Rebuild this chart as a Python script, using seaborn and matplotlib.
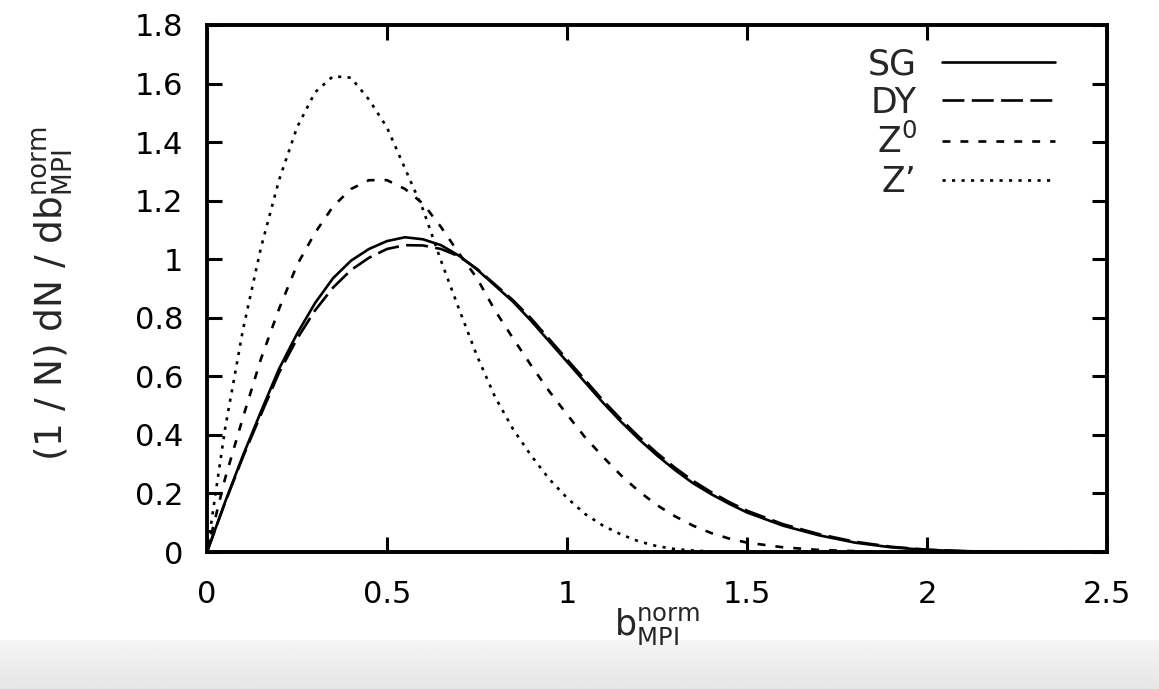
import numpy as np
import pandas as pd
import matplotlib
matplotlib.use("Agg")
import matplotlib.pyplot as plt
import seaborn as sns

# ---- data ----
b_norm = [0.00, 0.05, 0.10, 0.15, 0.20, 0.25, 0.30, 0.35, 0.40, 0.45, 0.50,
          0.55, 0.60, 0.65, 0.70, 0.75, 0.80, 0.85, 0.90, 0.95, 1.00, 1.05,
          1.10, 1.15, 1.20, 1.25, 1.30, 1.35, 1.40, 1.45, 1.50, 1.60, 1.70,
          1.80, 1.90, 2.00, 2.10, 2.20, 2.30, 2.40, 2.50]

sg = [0.000, 0.170, 0.330, 0.480, 0.625, 0.745, 0.850, 0.935, 0.995, 1.035, 1.062,
      1.075, 1.068, 1.048, 1.012, 0.965, 0.910, 0.855, 0.790, 0.720, 0.650, 0.580,
      0.510, 0.445, 0.385, 0.330, 0.280, 0.235, 0.198, 0.165, 0.135, 0.090, 0.057,
      0.032, 0.016, 0.007, 0.003, 0.001, 0.000, 0.000, 0.000]

dy = [0.000, 0.168, 0.325, 0.470, 0.612, 0.728, 0.825, 0.903, 0.963, 1.005, 1.035,
      1.048, 1.047, 1.035, 1.010, 0.967, 0.914, 0.860, 0.798, 0.728, 0.658, 0.588,
      0.518, 0.453, 0.393, 0.338, 0.288, 0.243, 0.205, 0.171, 0.141, 0.095, 0.061,
      0.035, 0.018, 0.008, 0.003, 0.001, 0.000, 0.000, 0.000]

z0 = [0.000, 0.250, 0.460, 0.660, 0.830, 0.980, 1.090, 1.180, 1.240, 1.270, 1.270,
      1.240, 1.190, 1.110, 1.020, 0.935, 0.825, 0.730, 0.638, 0.550, 0.470, 0.392,
      0.325, 0.262, 0.207, 0.160, 0.122, 0.090, 0.065, 0.046, 0.032, 0.016, 0.007,
      0.003, 0.001, 0.000, 0.000, 0.000, 0.000, 0.000, 0.000]

zp = [0.000, 0.420, 0.760, 1.040, 1.270, 1.450, 1.570, 1.625, 1.620, 1.545, 1.450,
      1.310, 1.170, 0.995, 0.830, 0.670, 0.530, 0.420, 0.330, 0.250, 0.185, 0.130,
      0.090, 0.060, 0.036, 0.020, 0.010, 0.005, 0.002, 0.001, 0.000, 0.000, 0.000,
      0.000, 0.000, 0.000, 0.000, 0.000, 0.000, 0.000, 0.000]

series_names = ["SG", "DY", "Z$^0$", "Z\u2019"]
xticks = [0, 0.5, 1, 1.5, 2, 2.5]
yticks = [0, 0.2, 0.4, 0.6, 0.8, 1, 1.2, 1.4, 1.6, 1.8]
xtick_labels = ["0", "0.5", "1", "1.5", "2", "2.5"]
ytick_labels = ["0", "0.2", "0.4", "0.6", "0.8", "1", "1.2", "1.4", "1.6", "1.8"]

df = pd.concat([
    pd.DataFrame({"b": b_norm, "v": vals, "series": name})
    for name, vals in zip(series_names, [sg, dy, z0, zp])
], ignore_index=True)

sns.set_style("ticks")
plt.rcParams["font.family"] = ["DejaVu Sans"]
plt.rcParams["mathtext.fontset"] = "dejavusans"

W, H = 1159, 689
fig = plt.figure(figsize=(W / 100, H / 100), dpi=100)
fig.patch.set_facecolor("white")

# grey band at the bottom of the picture
band = fig.add_axes([0, 0, 1, 49 / H], zorder=-5)
grad = np.linspace(0.96, 0.90, 50).reshape(-1, 1)
band.imshow(np.repeat(grad, 2, axis=1), cmap="gray", vmin=0, vmax=1,
            aspect="auto", extent=[0, 1, 0, 1], origin="upper")
band.axis("off")

ax = fig.add_axes([207 / W, 1 - 552 / H, 900 / W, 527 / H])
lw = 1.9
dashes = {
    "SG": "",
    "DY": (8.3, 2.8),
    "Z$^0$": (3.0, 3.8),
    "Z\u2019": (1.2, 2.4),
}
sns.lineplot(data=df, x="b", y="v", hue="series", style="series",
             palette=["black"] * 4, dashes=dashes, linewidth=lw, ax=ax,
             sort=False, estimator=None)

ax.set_xlim(0, 2.5)
ax.set_ylim(0, 1.8)
ax.set_xticks(xticks)
ax.set_xticklabels(xtick_labels)
ax.set_yticks(yticks)
ax.set_yticklabels(ytick_labels)
ax.tick_params(direction="in", length=11, width=2.2, top=True, right=True,
               labelsize=22, colors="black")
ax.tick_params(axis="y", pad=17)
ax.tick_params(axis="x", pad=20)
for s in ax.spines.values():
    s.set_linewidth(2.8)
    s.set_color("black")

ax.set_xlabel(r"b$_{\mathrm{MPI}}^{\mathrm{norm}}$", fontsize=25)
ax.set_ylabel(r"(1 / N) dN / db$_{\mathrm{MPI}}^{\mathrm{norm}}$", fontsize=27)
ax.xaxis.set_label_coords(0.5, -0.1)
ax.yaxis.set_label_coords(-0.147, 0.49)

handles, labels = ax.get_legend_handles_labels()
leg = ax.legend(handles, labels, loc="upper right", bbox_to_anchor=(0.942, 0.958),
                frameon=False, markerfirst=False, fontsize=25,
                handlelength=3.26, handletextpad=0.72, labelspacing=0.13,
                borderaxespad=0.0, borderpad=0.0)
for t in leg.get_texts():
    t.set_ha("right")
leg._legend_box.align = "right"

fig.savefig("out.png", dpi=100, facecolor="white")
